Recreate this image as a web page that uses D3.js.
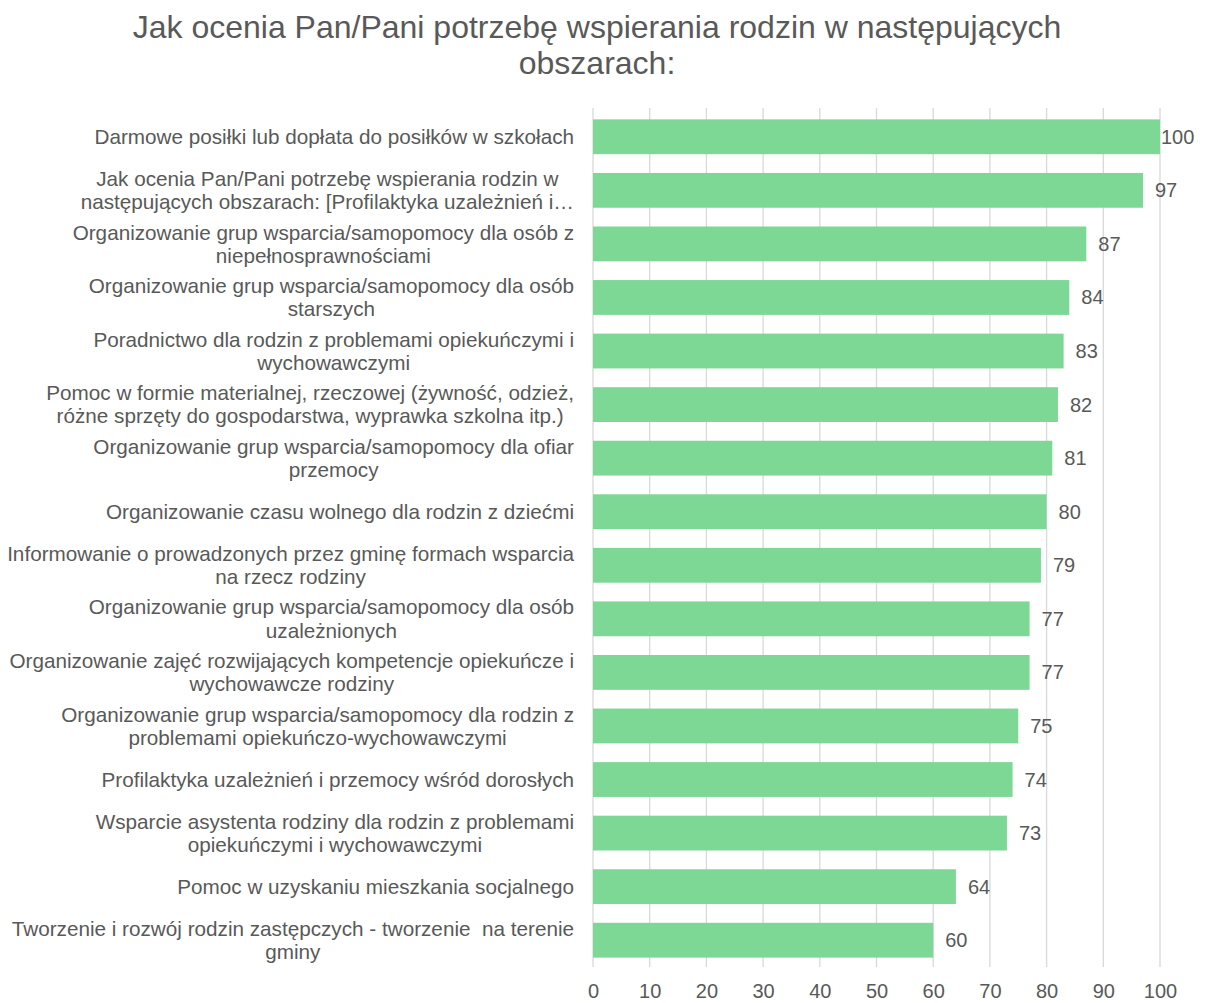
<!DOCTYPE html>
<html lang="pl">
<head>
<meta charset="utf-8">
<title>Wspieranie rodzin</title>
<style>
  body { margin: 0; background: #fff; }
  text { font-family: Arial, "Liberation Sans", sans-serif; fill: #595959; }
</style>
</head>
<body>
<div id="chart"></div>
<script src="https://d3js.org/d3.v7.min.js"></script>
<script>
var categories = [
  ["Darmowe posiłki lub dopłata do posiłków w szkołach"],
  ["Jak ocenia Pan/Pani potrzebę wspierania rodzin w", "następujących obszarach: [Profilaktyka uzależnień i…"],
  ["Organizowanie grup wsparcia/samopomocy dla osób z", "niepełnosprawnościami"],
  ["Organizowanie grup wsparcia/samopomocy dla osób", "starszych"],
  ["Poradnictwo dla rodzin z problemami opiekuńczymi i", "wychowawczymi"],
  ["Pomoc w formie materialnej, rzeczowej (żywność, odzież,", "różne sprzęty do gospodarstwa, wyprawka szkolna itp.)"],
  ["Organizowanie grup wsparcia/samopomocy dla ofiar", "przemocy"],
  ["Organizowanie czasu wolnego dla rodzin z dziećmi"],
  ["Informowanie o prowadzonych przez gminę formach wsparcia", "na rzecz rodziny"],
  ["Organizowanie grup wsparcia/samopomocy dla osób", "uzależnionych"],
  ["Organizowanie zajęć rozwijających kompetencje opiekuńcze i", "wychowawcze rodziny"],
  ["Organizowanie grup wsparcia/samopomocy dla rodzin z", "problemami opiekuńczo-wychowawczymi"],
  ["Profilaktyka uzależnień i przemocy wśród dorosłych"],
  ["Wsparcie asystenta rodziny dla rodzin z problemami", "opiekuńczymi i wychowawczymi"],
  ["Pomoc w uzyskaniu mieszkania socjalnego"],
  ["Tworzenie i rozwój rodzin zastępczych - tworzenie\u00a0 na terenie", "gminy"]
]
var values = [100, 97, 87, 84, 83, 82, 81, 80, 79, 77, 77, 75, 74, 73, 64, 60]
var xTicks = [0, 10, 20, 30, 40, 50, 60, 70, 80, 90, 100]
var titleLines = ["Jak ocenia Pan/Pani potrzebę wspierania rodzin w następujących", "obszarach:"]

var width = 1206, height = 1003
var margins = {top: 110, right: 46, bottom: 36, left: 593}
var innerW = width - margins.left - margins.right
var innerH = height - margins.top - margins.bottom

var svg = d3.select("#chart")
  .append("svg")
    .attr("width", width)
    .attr("height", height)

// title
svg.append("text")
  .attr("x", 597)
  .attr("y", 38)
  .attr("text-anchor", "middle")
  .style("font-size", "32px")
  .selectAll("tspan")
  .data(titleLines)
  .join("tspan")
    .attr("x", 597)
    .attr("dy", function(d, i) { return i ? 36 : 0 })
    .text(function(d) { return d })

var g = svg.append("g")
  .attr("transform", "translate(" + margins.left + "," + margins.top + ")")

var x = d3.scaleLinear().domain([0, 100]).range([0, innerW])
var y = d3.scaleBand()
  .domain(d3.range(values.length))
  .range([0, innerH])
  .paddingInner(0.35)
  .paddingOuter(0.175)

// gridlines
g.selectAll(".grid")
  .data(xTicks)
  .join("line")
    .attr("x1", function(d) { return x(d) })
    .attr("x2", function(d) { return x(d) })
    .attr("y1", -2)
    .attr("y2", innerH)
    .attr("stroke", "#d9d9d9")
    .attr("stroke-width", 1.3)

// x axis labels
var xAxis = g.append("g")
  .attr("transform", "translate(0," + innerH + ")")
  .call(d3.axisBottom(x).tickValues(xTicks).tickSize(0).tickPadding(17))
xAxis.select(".domain").remove()
xAxis.selectAll("text")
  .style("font-size", "20px")
  .style("font-family", "Arial, 'Liberation Sans', sans-serif")
  .attr("fill", "#595959")

// bars
g.selectAll(".bar")
  .data(values)
  .join("rect")
    .attr("x", 0)
    .attr("y", function(d, i) { return y(i) })
    .attr("width", function(d) { return x(d) })
    .attr("height", y.bandwidth())
    .attr("fill", "#7dd795")

// value labels
g.selectAll(".val")
  .data(values)
  .join("text")
    .attr("x", function(d) { return x(d) + (d >= 100 ? 1 : 12) })
    .attr("y", function(d, i) { return y(i) + y.bandwidth() / 2 })
    .attr("dy", "0.35em")
    .style("font-size", "20px")
    .text(function(d) { return d })

// category labels
var lab = g.selectAll(".cat")
  .data(categories)
  .join("text")
    .attr("text-anchor", "middle")
    .style("font-size", "20.7px")
    .attr("y", function(d, i) { return y(i) + y.bandwidth() / 2 })

lab.each(function(lines) {
  var t = d3.select(this)
  var n = lines.length
  t.selectAll("tspan")
    .data(lines)
    .join("tspan")
      .attr("dy", function(d, j) { return j === 0 ? (0.35 - (n - 1) * 0.56) + "em" : "1.12em" })
      .text(function(d) { return d })
})

// right-aligned block, each line centered within it
lab.each(function() {
  var tspans = d3.select(this).selectAll("tspan")
  var maxW = 0
  tspans.each(function() { maxW = Math.max(maxW, this.getComputedTextLength()) })
  tspans.attr("x", -19 - maxW / 2)
})
</script>
</body>
</html>
